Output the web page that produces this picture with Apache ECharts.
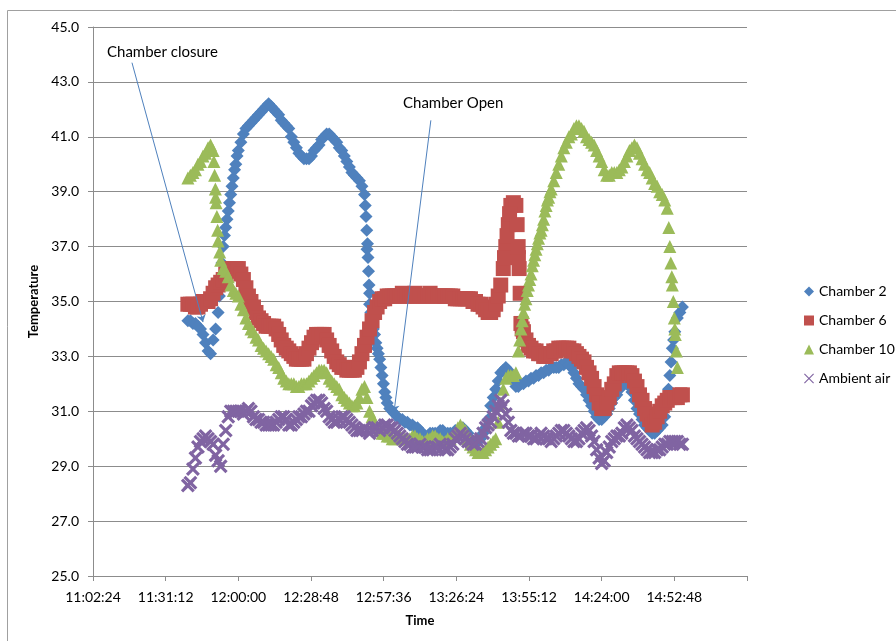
<!DOCTYPE html>
<html><head><meta charset="utf-8">
<script src="https://cdn.jsdelivr.net/npm/echarts@6.0.0/dist/echarts.min.js"></script>
<style>html,body{margin:0;padding:0;background:#fff}#chart{width:896px;height:641px}</style>
</head><body><div id="chart"></div>
<script>
// sample times, minutes after 11:00 (one per minute)
const timeMinutes = [40,41,42,43,44,45,46,47,48,49,
 50,51,52,53,54,55,56,57,58,59,
 60,61,62,63,64,65,66,67,68,69,
 70,71,72,73,74,75,76,77,78,79,
 80,81,82,83,84,85,86,87,88,89,
 90,91,92,93,94,95,96,97,98,99,
 100,101,102,103,104,105,106,107,108,109,
 110,111,112,113,114,115,116,117,118,119,
 120,121,122,123,124,125,126,127,128,129,
 130,131,132,133,134,135,136,137,138,139,
 140,141,142,143,144,145,146,147,148,149,
 150,151,152,153,154,155,156,157,158,159,
 160,161,162,163,164,165,166,167,168,169,
 170,171,172,173,174,175,176,177,178,179,
 180,181,182,183,184,185,186,187,188,189,
 190,191,192,193,194,195,196,197,198,199,
 200,201,202,203,204,205,206,207,208,209,
 210,211,212,213,214,215,216,217,218,219,
 220,221,222,223,224,225,226,227,228,229,
 230,231,232,233,234,235,236];

const chamber2 = [34.3,34.3,34.2,34.2,34.1,34.0,33.8,33.5,33.2,33.1,
 33.6,34.0,34.6,35.8,37.0,37.7,38.3,38.9,39.5,40.0,
 40.5,40.8,41.1,41.3,41.4,41.5,41.6,41.7,41.8,41.9,
 42.0,42.1,42.2,42.1,42.0,41.9,41.8,41.6,41.5,41.4,
 41.3,41.0,40.8,40.6,40.4,40.3,40.2,40.2,40.2,40.3,
 40.5,40.6,40.7,40.9,41.0,41.1,41.1,41.0,40.9,40.8,
 40.6,40.5,40.3,40.1,39.9,39.7,39.6,39.5,39.4,39.2,
 38.9,36.9,34.9,34.3,33.8,33.3,32.9,32.3,31.7,31.3,
 31.1,31.0,30.9,30.8,30.7,30.7,30.6,30.6,30.5,30.5,
 30.4,30.4,30.3,30.2,30.1,30.1,30.2,30.2,30.2,30.2,
 30.3,30.3,30.2,30.2,30.2,30.2,30.3,30.3,30.4,30.4,
 30.3,30.2,30.0,29.9,29.9,29.9,30.0,30.2,30.4,30.7,
 31.2,31.5,31.8,32.1,32.4,32.5,32.6,32.5,32.3,32.1,
 31.9,31.9,32.0,32.0,32.1,32.1,32.2,32.2,32.3,32.3,
 32.4,32.4,32.5,32.5,32.6,32.6,32.6,32.6,32.7,32.7,
 32.8,32.7,32.6,32.4,32.2,32.0,31.9,31.8,31.6,31.4,
 31.2,31.0,30.8,30.7,30.7,30.8,30.9,31.1,31.3,31.5,
 31.6,31.8,31.9,32.0,32.0,31.9,31.7,31.4,31.1,30.9,
 30.7,30.5,30.4,30.3,30.2,30.2,30.3,30.4,30.5,30.8,
 31.3,32.3,33.3,33.9,34.4,34.6,34.8];
const chamber2Extra = [[52.5,35.2],[53.5,36.4],[54.5,37.4],[55.5,38.0],[56.5,38.6],[57.5,39.2],[58.5,39.8],[59.5,40.3],
 [110.3,38.5],[110.6,38.1],[110.9,37.6],[111.2,37.1],[111.4,36.6],[111.6,36.1],[111.8,35.6],[112.0,35.3],
 [112.5,34.6],[113.5,34.0],[114.5,33.5],[115.5,33.1],[116.5,32.6],[117.5,32.0],[118.5,31.5],
 [230.5,31.8],[231.5,32.8],[232.5,33.6]];

const chamber6 = [34.9,34.9,34.9,34.8,34.8,34.9,35.0,35.0,35.0,35.1,
 35.3,35.5,35.6,35.7,35.8,36.0,36.1,36.2,36.2,36.2,
 36.2,36.0,35.8,35.5,35.2,35.0,34.8,34.6,34.4,34.3,
 34.2,34.1,34.1,34.1,34.1,34.0,33.8,33.6,33.4,33.3,
 33.2,33.1,33.0,32.9,32.9,32.9,32.9,33.1,33.3,33.5,
 33.7,33.8,33.8,33.8,33.8,33.6,33.4,33.2,33.0,32.8,
 32.7,32.6,32.6,32.5,32.5,32.5,32.5,32.6,32.8,33.1,
 33.4,33.7,34.0,34.3,34.6,34.8,35.0,35.1,35.1,35.2,
 35.2,35.2,35.2,35.2,35.2,35.3,35.2,35.2,35.2,35.2,
 35.3,35.2,35.2,35.2,35.2,35.2,35.3,35.2,35.2,35.2,
 35.2,35.2,35.2,35.2,35.2,35.2,35.1,35.1,35.1,35.1,
 35.1,35.1,35.1,35.0,35.0,34.9,34.9,34.8,34.7,34.6,
 34.6,34.7,34.9,35.2,35.6,36.2,37.0,37.8,38.5,38.6,
 38.5,36.6,34.2,33.9,33.6,33.4,33.3,33.2,33.2,33.1,
 33.1,33.0,33.0,33.1,33.1,33.2,33.2,33.3,33.3,33.3,
 33.3,33.3,33.2,33.2,33.1,33.0,32.9,32.8,32.6,32.4,
 32.2,31.9,31.6,31.3,31.1,31.1,31.3,31.5,31.8,32.0,
 32.3,32.4,32.4,32.4,32.4,32.4,32.3,32.1,31.9,31.6,
 31.4,31.1,30.9,30.7,30.5,30.6,30.8,31.0,31.2,31.3,
 31.4,31.5,31.5,31.5,31.5,31.6,31.6];
const chamber6Extra = [[165.5,36.6],[166.5,37.4],[167.5,38.2],[170.5,37.8],[170.9,37.0],[171.3,36.2],[171.7,35.3],[172.5,34.0]];

const chamber10 = [39.5,39.6,39.7,39.8,40.0,40.1,40.3,40.4,40.6,40.7,
 40.5,38.8,37.2,36.5,36.2,36.1,35.9,35.6,35.4,35.3,
 35.2,34.9,34.7,34.4,34.2,34.0,33.9,33.7,33.6,33.4,
 33.3,33.2,33.1,33.0,32.9,32.7,32.6,32.4,32.2,32.1,
 32.0,32.0,32.0,31.9,31.9,32.0,32.0,32.0,32.1,32.2,
 32.3,32.4,32.5,32.5,32.5,32.4,32.2,32.1,32.0,31.9,
 31.8,31.6,31.5,31.4,31.3,31.2,31.2,31.3,31.5,31.8,
 31.9,31.5,31.0,30.8,30.6,30.4,30.3,30.2,30.2,30.1,
 30.1,30.0,30.0,30.1,30.1,30.0,30.0,30.0,30.0,30.1,
 30.1,30.0,30.0,29.9,29.9,30.0,30.0,30.1,30.1,30.0,
 30.0,29.9,29.9,30.0,30.0,30.1,30.2,30.4,30.5,30.4,
 30.3,30.0,29.8,29.7,29.6,29.5,29.5,29.5,29.6,29.7,
 29.8,29.9,30.0,30.6,31.3,31.8,32.2,32.3,32.3,32.3,
 32.4,33.2,34.0,34.6,35.1,35.6,36.0,36.5,36.9,37.3,
 37.6,38.0,38.5,38.8,39.1,39.4,39.7,40.0,40.3,40.6,
 40.8,41.0,41.1,41.3,41.4,41.4,41.3,41.2,41.0,40.9,
 40.8,40.7,40.5,40.3,40.1,39.8,39.6,39.6,39.7,39.7,
 39.7,39.8,39.9,40.1,40.3,40.5,40.6,40.7,40.6,40.4,
 40.2,40.0,39.8,39.7,39.5,39.3,39.2,39.0,38.9,38.7,
 38.4,37.0,35.6,34.0,32.6,null,null];
const chamber10Extra = [[50.3,40.1],[50.6,39.6],[50.9,39.1],[51.2,38.6],[51.5,38.1],[51.8,37.6],[52.6,36.8],
 [171.5,33.6],[172.5,34.3],[173.5,34.9],[174.5,35.4],[175.5,35.8],[176.5,36.3],[177.5,36.7],[178.5,37.1],
 [179.5,37.5],[180.5,37.8],[181.5,38.3],[182.5,38.7],[183.5,39.0],
 [230.6,37.7],[231.4,36.4],[231.8,35.9],[232.4,35.0],[232.8,34.4],[233.2,33.8],[233.6,33.2]];

const ambientAir = [28.3,28.4,28.9,29.3,29.7,29.9,30.0,30.1,30.0,29.9,
 29.8,29.4,29.2,29.0,29.8,30.3,30.8,31.0,31.0,31.0,
 31.0,31.0,30.9,31.0,31.1,31.0,30.8,30.7,30.7,30.6,
 30.6,30.5,30.5,30.5,30.5,30.6,30.7,30.8,30.8,30.7,
 30.5,30.5,30.6,30.7,30.8,30.8,30.9,31.0,31.0,31.2,
 31.3,31.4,31.4,31.3,31.1,31.0,30.8,30.7,30.6,30.6,
 30.7,30.8,30.8,30.7,30.6,30.5,30.4,30.3,30.3,30.3,
 30.4,30.3,30.2,30.3,30.4,30.4,30.3,30.4,30.5,30.5,
 30.4,30.4,30.3,30.2,30.1,30.0,29.9,29.8,29.8,29.7,
 29.7,29.7,29.8,29.7,29.7,29.6,29.6,29.6,29.7,29.7,
 29.8,29.7,29.6,29.6,29.7,29.8,30.0,30.1,30.2,30.1,
 30.0,29.9,29.9,29.8,29.8,29.9,30.0,30.2,30.4,30.5,
 30.6,30.8,31.0,31.2,31.4,31.2,30.9,30.6,30.3,30.2,
 30.2,30.1,30.1,30.2,30.2,30.1,30.1,30.0,30.0,30.1,
 30.2,30.1,30.0,30.0,29.9,30.0,30.1,30.2,30.3,30.3,
 30.2,30.1,30.0,29.9,29.9,30.0,30.2,30.3,30.4,30.3,
 30.1,29.9,29.6,29.3,29.1,29.2,29.5,29.7,29.9,30.0,
 30.1,30.1,30.2,30.4,30.5,30.4,30.3,30.1,30.0,29.9,
 29.8,29.7,29.6,29.5,29.5,29.5,29.6,29.6,29.7,29.8,
 29.8,29.9,29.9,29.9,29.9,29.8,29.8];
const ambientExtra = [];

const seriesNames = ['Chamber 2','Chamber 6','Chamber 10','Ambient air'];
// x-axis ticks: seconds after midnight (11:02:24 .. 15:21:36, every 28:48)
const xMin = 39744, xMax = 55296, xStep = 1728;
const yMin = 25, yMax = 45, yStep = 2;
// annotation arrows [label, startMinute, startTemp, endMinute, endTemp]
const annotations = [['Chamber closure',17.85,43.7,46.0,34.25],['Chamber Open',136.3,41.6,121.7,30.97]];

const BASE = 11*3600;
const toSec = m => BASE + m*60;
function fmtTime(s){
  const h=Math.floor(s/3600), m=Math.floor((s%3600)/60), sec=Math.round(s%60);
  const p=n=>String(n).padStart(2,'0');
  return h+':'+p(m)+':'+p(sec);
}
function build(vals, extra){
  const out=[];
  timeMinutes.forEach((t,i)=>{ if(vals[i]!=null) out.push([toSec(t), vals[i]]); });
  extra.forEach(p=>out.push([toSec(p[0]), p[1]]));
  return out;
}
const X_ICON = 'path://M0,1.6 L1.6,0 L5,3.4 L8.4,0 L10,1.6 L6.6,5 L10,8.4 L8.4,10 L5,6.6 L1.6,10 L0,8.4 L3.4,5 Z';
const FONT = 'Lato';
const gridColor = '#8c8c8c';

const chart = echarts.init(document.getElementById('chart'), null, {renderer:'canvas'});
chart.setOption({
  animation:false,
  backgroundColor:'#ffffff',
  grid:{left:93, top:27, right:149, bottom:65},
  legend:{
    orient:'vertical', left:799, top:279, itemWidth:10, itemHeight:10, itemGap:14,
    textStyle:{fontFamily:FONT, fontSize:14, color:'#000', lineHeight:15},
    data:[{name:seriesNames[0],icon:'diamond'},{name:seriesNames[1],icon:'rect'},
          {name:seriesNames[2],icon:'triangle'},{name:seriesNames[3],icon:'path://M0,0.8 L0.8,0 L5,4.2 L9.2,0 L10,0.8 L5.8,5 L10,9.2 L9.2,10 L5,5.8 L0.8,10 L0,9.2 L4.2,5 Z'}]
  },
  xAxis:{
    type:'value', min:xMin, max:xMax, interval:xStep,
    name:'Time', nameLocation:'middle', nameGap:38,
    nameTextStyle:{fontFamily:FONT, fontWeight:'bold', fontSize:13, color:'#000'},
    axisLine:{show:true, lineStyle:{color:gridColor}},
    axisTick:{show:true, length:5, lineStyle:{color:gridColor}},
    splitLine:{show:false},
    axisLabel:{fontFamily:FONT, fontSize:14, color:'#000', margin:14,
      formatter:v=> v>=xMax-1 ? '' : fmtTime(v)}
  },
  yAxis:{
    type:'value', min:yMin, max:yMax, interval:yStep,
    name:'Temperature', nameLocation:'middle', nameGap:50, nameRotate:90,
    nameTextStyle:{fontFamily:FONT, fontWeight:'bold', fontSize:13, color:'#000'},
    axisLine:{show:true, lineStyle:{color:gridColor}},
    axisTick:{show:true, length:5, lineStyle:{color:gridColor}},
    splitLine:{show:true, lineStyle:{color:gridColor, width:1}},
    axisLabel:{fontFamily:FONT, fontSize:14, color:'#000', margin:14, formatter:v=>v.toFixed(1)}
  },
  graphic:[
    {type:'rect', shape:{x:7.5, y:10.5, width:1000, height:1000}, style:{fill:null, stroke:'#a0a0a0', lineWidth:1}, silent:true, z:-10},
    {type:'text', x:107, y:52, style:{text:annotations[0][0], font:'15px '+FONT, fill:'#000', verticalAlign:'middle'}},
    {type:'text', x:403, y:103, style:{text:annotations[1][0], font:'15px '+FONT, fill:'#000', verticalAlign:'middle'}}
  ],
  series:[
    {name:seriesNames[0], type:'scatter', symbol:'diamond', symbolSize:13, itemStyle:{color:'#4F81BD', opacity:1}, data:build(chamber2, chamber2Extra)},
    {name:seriesNames[1], type:'scatter', symbol:'rect', symbolSize:15, itemStyle:{color:'#C0504D', opacity:1}, data:build(chamber6, chamber6Extra)},
    {name:seriesNames[2], type:'scatter', symbol:'triangle', symbolSize:13, itemStyle:{color:'#9BBB59', opacity:1}, data:build(chamber10, chamber10Extra)},
    {name:seriesNames[3], type:'scatter', symbol:X_ICON, symbolSize:14, itemStyle:{color:'#8064A2', opacity:1}, data:build(ambientAir, ambientExtra),
      markLine:{silent:true, symbol:['none','arrow'], symbolSize:7, animation:false,
        lineStyle:{color:'#4F81BD', width:1, type:'solid'}, label:{show:false}, emphasis:{disabled:true},
        data:annotations.map(a=>[{coord:[toSec(a[1]),a[2]]},{coord:[toSec(a[3]),a[4]]}])}
    }
  ]
});
</script></body></html>
